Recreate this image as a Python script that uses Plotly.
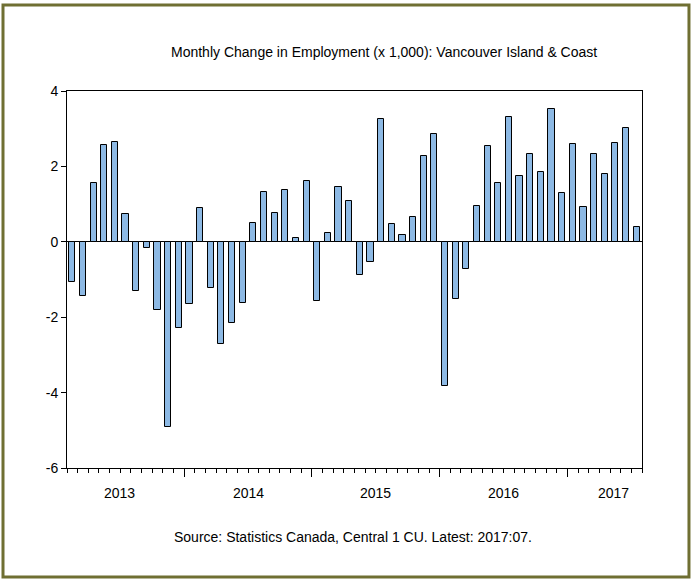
import plotly.graph_objects as go

# monthly change in employment, thousands, 2013:02 .. 2017:07
months = [f"{y}:{m:02d}" for y in range(2013, 2018) for m in range(1, 13)][1:55]
change = [
    -1.07, -1.44, 1.55, 2.56, 2.64, 0.73, -1.30, -0.16, -1.82, -4.92, -2.29,
    -1.66, 0.90, -1.23, -2.71, -2.15, -1.62, 0.50, 1.32, 0.77, 1.37, 0.10, 1.60,
    -1.58, 0.24, 1.46, 1.09, -0.89, -0.54, 3.26, 0.48, 0.18, 0.65, 2.27, 2.85,
    -3.82, -1.53, -0.73, 0.96, 2.54, 1.56, 3.32, 1.75, 2.34, 1.85, 3.53, 1.30,
    2.59, 0.93, 2.32, 1.79, 2.63, 3.03, 0.39,
]
years = ["2013", "2014", "2015", "2016", "2017"]
year_label_pos = [4.45, 16.5, 28.5, 40.5, 50.8]
year_breaks = [10.5, 22.5, 34.5, 46.5]
y_ticks = [-6, -4, -2, 0, 2, 4]
y_labels = ["-6", "-4", "-2", "0", "2", "4"]

idx = list(range(len(change)))
FONT = "Liberation Sans, Arial, sans-serif"

fig = go.Figure(go.Bar(
    x=idx,
    y=change,
    width=0.58,
    customdata=months,
    hovertemplate="%{customdata}: %{y}<extra></extra>",
    marker=dict(color="#8DB9E4", line=dict(color="black", width=1)),
))

fig.update_layout(
    width=691, height=581,
    margin=dict(l=67, r=49, t=91, b=113),
    paper_bgcolor="white", plot_bgcolor="white",
    showlegend=False,
    font=dict(family=FONT, size=14, color="black"),
    bargap=0,
    xaxis=dict(
        range=[-0.5, len(change) - 0.5],
        showline=True, linecolor="black", linewidth=1, mirror=True,
        showgrid=False, zeroline=False,
        tickmode="array", tickvals=year_breaks, showticklabels=False,
        ticks="outside", ticklen=8, tickcolor="black", tickwidth=1,
        minor=dict(ticks="outside", ticklen=4, tick0=-0.5, dtick=1,
                   tickcolor="black", tickwidth=1, showgrid=False),
    ),
    yaxis=dict(
        range=[-6, 4], tickmode="array", tickvals=y_ticks, ticktext=y_labels,
        showline=True, linecolor="black", linewidth=1, mirror=True,
        showgrid=False,
        zeroline=True, zerolinecolor="black", zerolinewidth=1,
        ticks="outside", ticklen=5, tickcolor="black",
        tickfont=dict(size=14),
    ),
    annotations=[
        dict(text="Monthly Change in Employment (x 1,000): Vancouver Island & Coast",
             x=0.551, y=1.1034, xref="paper", yref="paper", showarrow=False,
             xanchor="center", yanchor="middle", font=dict(size=14)),
        dict(text="Source: Statistics Canada, Central 1 CU. Latest: 2017:07.",
             x=0.497, y=-0.183, xref="paper", yref="paper", showarrow=False,
             xanchor="center", yanchor="middle", font=dict(size=14)),
    ] + [
        dict(text=yr, x=p, y=-0.066, xref="x", yref="paper", showarrow=False,
             xanchor="center", yanchor="middle", font=dict(size=14))
        for yr, p in zip(years, year_label_pos)
    ],
    shapes=[dict(type="rect", xref="paper", yref="paper",
                 x0=-0.1113, x1=1.0817, y0=-0.289, y1=1.228,
                 line=dict(color="#6F6F32", width=3), layer="below")],
)

fig.write_html("out.html", config={"displayModeBar": False},
               post_script="document.body.style.margin='0';")
